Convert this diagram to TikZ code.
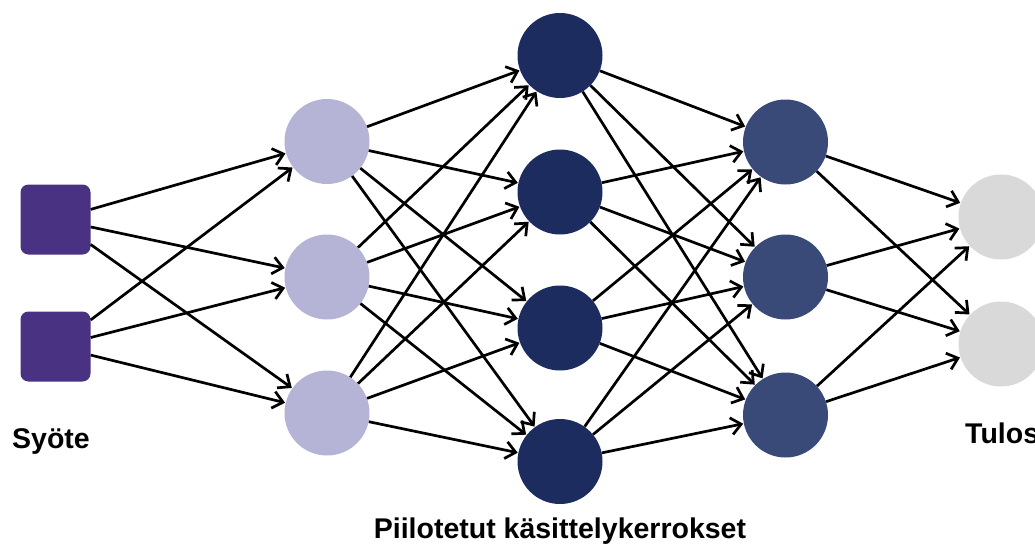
\documentclass[tikz,border=0pt]{standalone}
\usepackage{fontspec}
\setmainfont{Liberation Sans}
\usetikzlibrary{arrows.meta}
\definecolor{inputcol}{HTML}{4A3282}
\definecolor{hidA}{HTML}{B5B3D6}
\definecolor{hidB}{HTML}{1C2C5E}
\definecolor{hidC}{HTML}{394A78}
\definecolor{outcol}{HTML}{D9D9D9}
\begin{document}
\begin{tikzpicture}[x=1pt,y=-1pt,
  inbox/.style={rectangle,rounded corners=8pt,minimum size=70pt,inner sep=0pt,fill=inputcol},
  neuron/.style={circle,minimum size=85pt,inner sep=0pt},
  edge/.style={line width=2.7pt,black,shorten >=0.5pt,
    -{Straight Barb[length=10pt,width=17pt,line width=2.7pt]}},
  lbl/.style={font=\bfseries\fontsize{28.5}{30}\selectfont,inner sep=0pt}]
\useasboundingbox (0,0) rectangle (1035,549);
% input layer
\node[inbox] (i1) at (55.5,219.5) {};
\node[inbox] (i2) at (55.5,346.5) {};
% first hidden layer
\node[neuron,fill=hidA] (a1) at (327,141.5) {};
\node[neuron,fill=hidA] (a2) at (327,277) {};
\node[neuron,fill=hidA] (a3) at (327,413) {};
% second hidden layer
\node[neuron,fill=hidB] (b1) at (560,55.5) {};
\node[neuron,fill=hidB] (b2) at (560,192) {};
\node[neuron,fill=hidB] (b3) at (560,328) {};
\node[neuron,fill=hidB] (b4) at (560,461.5) {};
% third hidden layer
\node[neuron,fill=hidC] (c1) at (785.5,142) {};
\node[neuron,fill=hidC] (c2) at (785.5,277) {};
\node[neuron,fill=hidC] (c3) at (785.5,415) {};
% output layer
\node[neuron,fill=outcol] (o1) at (1001,217) {};
\node[neuron,fill=outcol] (o2) at (1001,344) {};
% fully connected links between consecutive layers
\foreach \s in {i1,i2}{\foreach \t in {a1,a2,a3}{\draw[edge] (\s) -- (\t);}}
\foreach \s in {a1,a2,a3}{\foreach \t in {b1,b2,b3,b4}{\draw[edge] (\s) -- (\t);}}
\foreach \s in {b1,b2,b3,b4}{\foreach \t in {c1,c2,c3}{\draw[edge] (\s) -- (\t);}}
\foreach \s in {c1,c2,c3}{\foreach \t in {o1,o2}{\draw[edge] (\s) -- (\t);}}
% labels
\node[lbl,anchor=base west] (lin) at (12,448) {Syöte};
\node[lbl,anchor=base] (lhid) at (560,538) {Piilotetut käsittelykerrokset};
\node[lbl,anchor=base west] (lout) at (965,443) {Tulos};
\end{tikzpicture}
\end{document}
